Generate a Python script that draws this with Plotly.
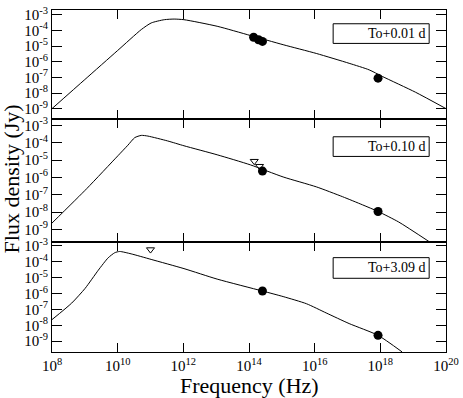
import plotly.graph_objects as go

# ---- data (log10 values) ----
labels = ["To+0.01 d", "To+0.10 d", "To+3.09 d"]

top_model_lognu = [8.00, 9.00, 10.00, 10.72, 11.02, 11.42, 11.72, 12.02, 13.03, 14.04, 15.04, 16.05, 17.05, 17.66, 18.06, 19.07, 20.00]
top_model_logF = [-9.00, -7.14, -5.28, -3.94, -3.52, -3.31, -3.27, -3.31, -3.73, -4.32, -4.91, -5.47, -6.10, -6.52, -6.94, -7.95, -9.00]
top_det_lognu = [14.14, 14.29, 14.41, 17.93]
top_det_logF = [-4.43, -4.59, -4.70, -7.05]

mid_model_lognu = [8.00, 9.06, 10.01, 10.31, 10.52, 10.72, 10.92, 11.52, 12.02, 13.03, 14.04, 15.04, 16.05, 16.85, 17.46, 17.93, 18.56, 19.50]
mid_model_logF = [-8.63, -6.64, -4.74, -4.14, -3.70, -3.57, -3.61, -3.89, -4.17, -4.69, -5.27, -5.97, -6.54, -7.11, -7.58, -7.96, -8.57, -9.72]
mid_det_lognu = [14.41, 17.93]
mid_det_logF = [-5.63, -7.96]
mid_ul_lognu = [14.16, 14.32]
mid_ul_logF = [-5.06, -5.35]

bot_model_lognu = [8.00, 8.60, 9.01, 9.41, 9.71, 9.91, 10.06, 10.41, 11.02, 12.02, 13.03, 14.41, 15.04, 15.75, 16.35, 17.05, 17.93, 18.66]
bot_model_logF = [-7.64, -6.60, -5.67, -4.53, -3.75, -3.43, -3.35, -3.50, -3.85, -4.43, -5.09, -5.84, -6.19, -6.64, -7.22, -7.89, -8.63, -9.67]
bot_det_lognu = [14.41, 17.93]
bot_det_logF = [-5.84, -8.63]
bot_ul_lognu = [11.00]
bot_ul_logF = [-3.23]

x_tick_exp = [8, 10, 12, 14, 16, 18, 20]
y_tick_exp = [-3, -4, -5, -6, -7, -8, -9]

p = lambda arr: [10.0 ** v for v in arr]

FONT = "'Liberation Serif', 'Times New Roman', Times, serif"
fig = go.Figure()

panels = [
    (top_model_lognu, top_model_logF, top_det_lognu, top_det_logF, [], []),
    (mid_model_lognu, mid_model_logF, mid_det_lognu, mid_det_logF, mid_ul_lognu, mid_ul_logF),
    (bot_model_lognu, bot_model_logF, bot_det_lognu, bot_det_logF, bot_ul_lognu, bot_ul_logF),
]
for i, (mx, my, dx, dy, ux, uy) in enumerate(panels):
    xa = "x" if i == 0 else f"x{i+1}"
    ya = "y" if i == 0 else f"y{i+1}"
    fig.add_trace(go.Scatter(x=p(mx), y=p(my), mode="lines", line=dict(color="black", width=1, shape="spline", smoothing=0.6),
                             xaxis=xa, yaxis=ya, showlegend=False, hoverinfo="skip"))
    fig.add_trace(go.Scatter(x=p(dx), y=p(dy), mode="markers", marker=dict(symbol="circle", size=9, color="black"),
                             xaxis=xa, yaxis=ya, showlegend=False))
    if ux:
        fig.add_trace(go.Scatter(x=p(ux), y=p(uy), mode="markers",
                                 marker=dict(symbol="triangle-down-open", size=7, color="black", line=dict(width=1)),
                                 xaxis=xa, yaxis=ya, showlegend=False))

yranges = [[-9.67, -2.69], [-9.72, -2.63], [-9.68, -2.75]]
domains = [[0.681, 1.0], [0.3218, 0.681], [0.0, 0.3218]]

axis_common = dict(showline=True, linecolor="black", linewidth=1, mirror="allticks", ticks="inside",
                   tickcolor="black", showgrid=False, zeroline=False, type="log",
                   tickfont=dict(family=FONT, size=15, color="black"))

layout = dict(width=463, height=398, margin=dict(l=52, r=13, t=4, b=46),
              paper_bgcolor="white", plot_bgcolor="white", showlegend=False,
              font=dict(family=FONT, color="black"))
for i in range(3):
    xk = "xaxis" if i == 0 else f"xaxis{i+1}"
    yk = "yaxis" if i == 0 else f"yaxis{i+1}"
    ya = "y" if i == 0 else f"y{i+1}"
    xa = "x" if i == 0 else f"x{i+1}"
    layout[xk] = dict(axis_common, range=[8, 20], anchor=ya, domain=[0, 1], ticklen=9,
                      tickvals=[10.0 ** e for e in x_tick_exp],
                      ticktext=[f"10<sup>{e}</sup>" for e in x_tick_exp],
                      showticklabels=(i == 2))
    if i > 0:
        layout[xk]["matches"] = "x"
    layout[yk] = dict(axis_common, range=yranges[i], anchor=xa, domain=domains[i], ticklen=10,
                      tickvals=[10.0 ** e for e in y_tick_exp],
                      ticktext=[f"10<sup>{e}</sup>" for e in y_tick_exp])
fig.update_layout(**layout)

# label boxes
box_y = [(18, 38), (133, 153), (256, 277)]
for i, (lab, (yt, yb)) in enumerate(zip(labels, box_y)):
    y0 = (352 - yb) / 348
    y1 = (352 - yt) / 348
    fig.add_shape(type="rect", xref="paper", yref="paper", x0=(336 - 52) / 398, x1=(433 - 52) / 398,
                  y0=y0, y1=y1, line=dict(color="black", width=1), fillcolor="white", layer="above")
    fig.add_annotation(text=lab, xref="paper", yref="paper", x=(431 - 52) / 398, y=(y0 + y1) / 2,
                       xanchor="right", yanchor="middle", showarrow=False,
                       font=dict(family=FONT, size=14, color="black"))

fig.add_annotation(text="Flux density (Jy)", xref="paper", yref="paper", x=(11 - 52) / 398, y=(352 - 176) / 348,
                   textangle=-90, showarrow=False, xanchor="center", yanchor="middle",
                   font=dict(family=FONT, size=22, color="black"))
fig.add_annotation(text="Frequency (Hz)", xref="paper", yref="paper", x=(251.5 - 52) / 398, y=(352 - 386) / 348,
                   showarrow=False, xanchor="center", yanchor="middle",
                   font=dict(family=FONT, size=22, color="black"))

fig.write_html("out.html", config={"displayModeBar": False},
               post_script="document.body.style.margin='0';")
